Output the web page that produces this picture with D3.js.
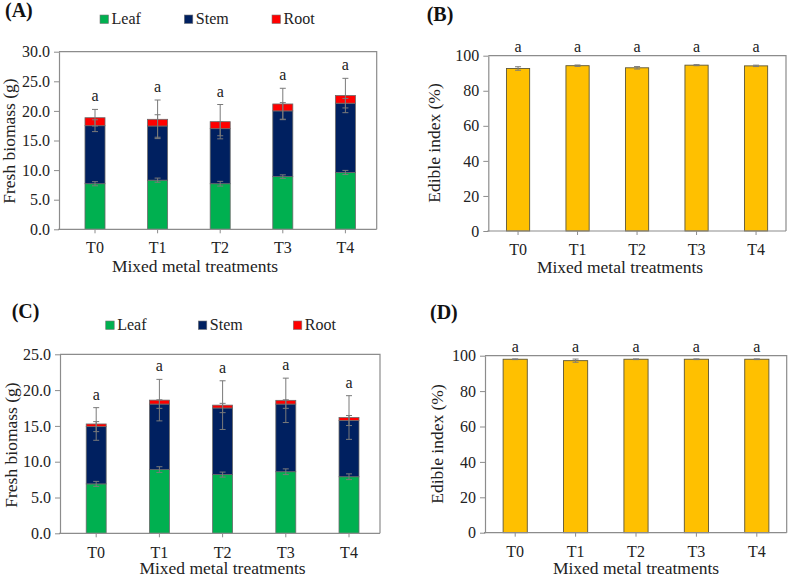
<!DOCTYPE html>
<html><head><meta charset="utf-8">
<script src="https://cdn.jsdelivr.net/npm/d3@7"></script>
<style>
body{margin:0;background:#fff;}
svg{display:block;font-family:"Liberation Serif","Times New Roman",serif;}
</style></head>
<body><svg id="c" width="789" height="577"></svg>
<script>
const categories = ["T0","T1","T2","T3","T4"];
const seriesNames = ["Leaf","Stem","Root"];
const seriesColors = ["#00b050","#002060","#ff0000"];

// Panel A – fresh biomass (g)
const leafA = [7.7, 8.3, 7.7, 8.9, 9.6];
const stemA = [9.8, 9.15, 9.3, 11.1, 11.7];
const rootA = [1.35, 1.13, 1.18, 1.17, 1.3];
const leafErrA = [0.35, 0.35, 0.4, 0.3, 0.35];
const stemErrA = [1.0, 1.9, 1.2, 1.4, 0.8];
const rootErrA = [1.4, 3.26, 2.9, 2.65, 2.9];
const lettersA = ["a","a","a","a","a"];
const ticksA = [0,5,10,15,20,25,30];

// Panel B – edible index (%)
const edibleB = [92.7, 94.3, 93.1, 94.6, 94.2];
const errB = [1.0, 0.4, 0.7, 0.3, 0.4];
const lettersB = ["a","a","a","a","a"];

// Panel C – fresh biomass (g)
const leafC = [6.9, 8.9, 8.2, 8.6, 7.9];
const stemC = [8.0, 9.15, 9.3, 9.45, 7.85];
const rootC = [0.37, 0.55, 0.4, 0.52, 0.42];
const leafErrC = [0.35, 0.4, 0.35, 0.4, 0.4];
const stemErrC = [0.7, 0.6, 0.65, 0.6, 0.7];
const rootErrC = [2.28, 2.9, 3.4, 3.1, 3.05];
const lettersC = ["a","a","a","a","a"];
const ticksC = [0,5,10,15,20,25];

// Panel D – edible index (%)
const edibleD = [98.0, 97.2, 98.0, 98.0, 98.0];
const errD = [0.2, 0.9, 0.2, 0.2, 0.2];
const lettersD = ["a","a","a","a","a"];
const ticksPct = [0,20,40,60,80,100];

const svg = d3.select("#c");
const AX = "#8c8c8c", ERR = "#7a7a7a";

function frame(g, L){
  g.append("path").attr("d",`M${L.left},${L.top}H${L.right}V${L.bottom}`)
    .attr("fill","none").attr("stroke",AX).attr("stroke-width",1.2);
}

function axes(g, L, x, y, ticks, fmt){
  const ya = d3.axisLeft(y).tickValues(ticks).tickFormat(fmt).tickSize(5).tickSizeOuter(0).tickPadding(4);
  const yg = g.append("g").attr("transform",`translate(${L.left},0)`).call(ya);
  yg.select(".domain").attr("stroke",AX).attr("stroke-width",1.2);
  yg.selectAll(".tick line").attr("stroke",AX);
  yg.selectAll(".tick text").attr("font-size",16).attr("fill","#222").attr("font-family","Liberation Serif");
  const xa = d3.axisBottom(x).tickSize(4).tickSizeOuter(0).tickPadding(L.xPad);
  const xg = g.append("g").attr("transform",`translate(0,${L.bottom})`).call(xa);
  xg.select(".domain").attr("d",`M${L.left-1},0H${L.right}`).attr("stroke",AX).attr("stroke-width",1.2);
  xg.selectAll(".tick line").attr("stroke",AX);
  xg.selectAll(".tick text").attr("font-size",16).attr("fill","#222").attr("font-family","Liberation Serif");
  g.append("text").attr("x",L.titleX).attr("y",L.titleY).attr("text-anchor","middle")
    .attr("font-size",17.5).attr("fill","#222").text("Mixed metal treatments");
  g.append("text").attr("transform",`translate(${L.ylabX},${L.ylabY}) rotate(-90)`)
    .attr("text-anchor","middle").attr("font-size",17.5).attr("fill","#222").text(L.ylab);
  g.append("text").attr("x",L.tagX).attr("y",L.tagY).attr("font-size",20).attr("font-weight","bold")
    .attr("fill","#111").text(L.tag);
}

function errBar(g, cx, yTop, yBot, cap){
  g.append("line").attr("x1",cx).attr("x2",cx).attr("y1",yTop).attr("y2",yBot).attr("stroke",ERR).attr("stroke-width",1);
  g.append("line").attr("x1",cx-cap).attr("x2",cx+cap).attr("y1",yTop).attr("y2",yTop).attr("stroke",ERR).attr("stroke-width",1);
  g.append("line").attr("x1",cx-cap).attr("x2",cx+cap).attr("y1",yBot).attr("y2",yBot).attr("stroke",ERR).attr("stroke-width",1);
}

function stacked(L, leaf, stem, root, eL, eS, eR, letters, ticks, yMax){
  const g = svg.append("g");
  const x = d3.scaleBand().domain(categories).range(L.band).padding(0);
  const y = d3.scaleLinear().domain([0,yMax]).range([L.bottom, L.top]);
  const rows = categories.map((c,i)=>({c, Leaf:leaf[i], Stem:stem[i], Root:root[i]}));
  const stack = d3.stack().keys(seriesNames)(rows);
  const bw = x.bandwidth()*L.frac;
  frame(g, L);
  stack.forEach((s,k)=>{
    g.selectAll(null).data(s).enter().append("rect")
      .attr("x",d=>x(d.data.c)+x.bandwidth()/2-bw/2)
      .attr("width",bw)
      .attr("y",d=>y(d[1]))
      .attr("height",d=>y(d[0])-y(d[1]))
      .attr("fill",seriesColors[k]).attr("stroke","#6a6a6a").attr("stroke-width",0.8);
  });
  const errs = [eL, eS, eR];
  categories.forEach((c,i)=>{
    const cx = x(c)+x.bandwidth()/2;
    [0,1,2].forEach(k=>{
      const top = stack[k][i][1];
      errBar(g, cx, y(top+errs[k][i]), y(top-errs[k][i]), 3);
    });
    const tt = stack[2][i][1]+eR[i];
    g.append("text").attr("x",cx).attr("y",y(tt)-8).attr("text-anchor","middle")
      .attr("font-size",16).attr("fill","#222").text(letters[i]);
  });
  axes(g, L, x, y, ticks, d3.format(".1f"));
  seriesNames.forEach((n,k)=>{
    g.append("rect").attr("x",L.legX[k]).attr("y",L.legY-9).attr("width",8.5).attr("height",8.5)
      .attr("fill",seriesColors[k]).attr("stroke","#777").attr("stroke-width",0.6);
    g.append("text").attr("x",L.legX[k]+11.5).attr("y",L.legY).attr("font-size",16).attr("fill","#222").text(n);
  });
}

function simple(L, vals, errs, letters){
  const g = svg.append("g");
  const x = d3.scaleBand().domain(categories).range(L.band).padding(0);
  const y = d3.scaleLinear().domain([0,100]).range([L.bottom, L.top]);
  const bw = x.bandwidth()*L.frac;
  frame(g, L);
  g.selectAll(null).data(categories).enter().append("rect")
    .attr("x",c=>x(c)+x.bandwidth()/2-bw/2).attr("width",bw)
    .attr("y",(c,i)=>y(vals[i])).attr("height",(c,i)=>y(0)-y(vals[i]))
    .attr("fill","#ffc000").attr("stroke","#5e5636").attr("stroke-width",0.9);
  categories.forEach((c,i)=>{
    const cx = x(c)+x.bandwidth()/2;
    errBar(g, cx, y(vals[i]+errs[i]), y(vals[i]-errs[i]), 3);
    g.append("text").attr("x",cx).attr("y",L.top-4).attr("text-anchor","middle")
      .attr("font-size",16).attr("fill","#222").text(letters[i]);
  });
  axes(g, L, x, y, ticksPct, d3.format("d"));
}

stacked({left:59,right:376.7,top:51.7,bottom:229.3,band:[63.7,376.7],frac:0.32,xPad:8.5,
  titleX:195,titleY:271.5,ylabX:15,ylabY:141,ylab:"Fresh biomass (g)",tag:"(A)",tagX:5,tagY:17,
  legX:[100,184.3,272],legY:24},
  leafA, stemA, rootA, leafErrA, stemErrA, rootErrA, lettersA, ticksA, 30);

simple({left:488.3,right:786,top:55.7,bottom:231,band:[488.3,785.8],frac:0.39,xPad:8.5,
  titleX:620,titleY:273,ylabX:440,ylabY:143,ylab:"Edible index (%)",tag:"(B)",tagX:426.7,tagY:21},
  edibleB, errB, lettersB);

stacked({left:60,right:380,top:354.3,bottom:533.3,band:[64.6,380.6],frac:0.316,xPad:9.5,
  titleX:222.5,titleY:574,ylabX:16.7,ylabY:445,ylab:"Fresh biomass (g)",tag:"(C)",tagX:11.7,tagY:318,
  legX:[105.7,198.3,293.3],legY:330},
  leafC, stemC, rootC, leafErrC, stemErrC, rootErrC, lettersC, ticksC, 25);

simple({left:485,right:786.7,top:355.7,bottom:532.7,band:[485,787],frac:0.40,xPad:8.7,
  titleX:636,titleY:573.5,ylabX:443,ylabY:444,ylab:"Edible index (%)",tag:"(D)",tagX:430,tagY:319},
  edibleD, errD, lettersD);
</script></body></html>
